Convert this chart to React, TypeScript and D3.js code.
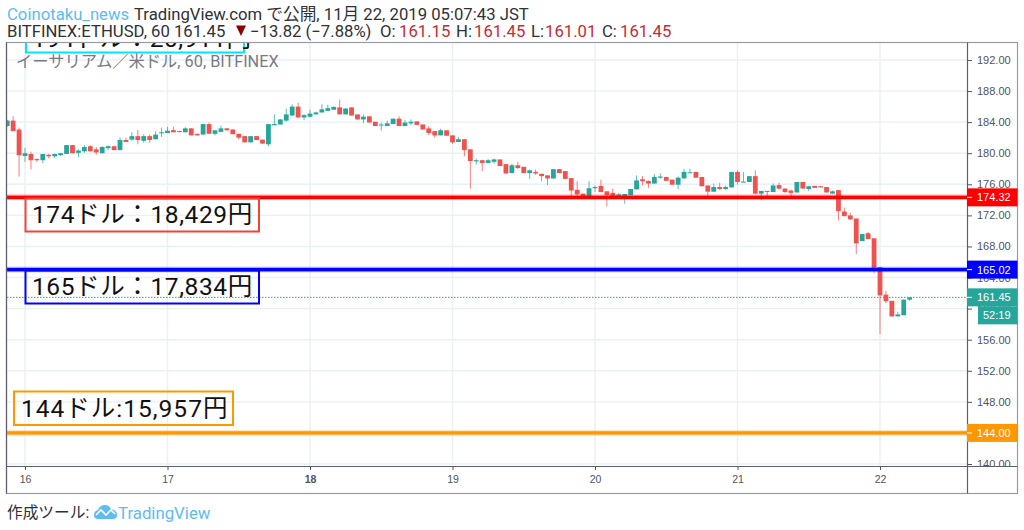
import { useEffect, useRef } from "react";
import * as d3 from "d3";

const FONT = "Roboto, 'Noto Sans CJK JP', sans-serif";
const AXIS_FONT = "'Liberation Sans', Arial, sans-serif";
const UP = "#26a69a";
const DOWN = "#ef5350";
const GRID = "#e9f0f6";
const AXIS = "#50535e";

// hourly candles, first one is 3 hours before the "16" tick
const FIRST_HOUR = -3;
const opens = [
  183.5, 184.2, 183.05, 179.65, 179.9, 179.25, 179.1, 179.8, 179.6, 179.75,
  179.9, 181.05, 180.05, 180.25, 180.9, 180.5, 180, 180.65, 180.9, 180.4,
  181.7, 181.75, 182.2, 181.6, 182.2, 181.8, 182.65, 182.6, 182.97, 182.85,
  182.7, 183.2, 182.5, 182.4, 183.75, 182.5, 182.75, 183.2, 183.05, 182.5,
  182.2, 181.4, 182.2, 181.75, 181.15, 183.6, 183.7, 184.2, 184.85, 186,
  184.6, 184.7, 185, 185.25, 185.45, 185.6, 185.9, 185, 185.9, 185,
  184.35, 184.75, 184.05, 183.65, 183.5, 183.75, 184.45, 183.5, 183.85, 184.1,
  183.7, 183.2, 182.85, 182.3, 182.95, 182.3, 181.45, 181.8, 180.5, 178.95,
  179.1, 178.75, 178.9, 179.2, 178.6, 177.45, 178.45, 178.25, 177.45, 177.6,
  177.35, 177.15, 176.75, 177.95, 177.7, 176.8, 175.3, 174.8, 174.4, 175.5,
  175.8, 175.1, 174.9, 174.4, 174.5, 174.6, 175.35, 176.65, 176.43, 176.1,
  176.85, 176.95, 176.6, 175.95, 176.75, 177.5, 177.6, 176.95, 175.85, 175.05,
  175.65, 175.4, 175.6, 177.6, 176.3, 176.3, 177.05, 174.8, 175.05, 175,
  175.9, 175.45, 175.2, 174.95, 176.3, 175.4, 175.8, 175.75, 175.65, 174.8,
  175.25, 172.5, 172, 171.6, 168.7, 169.7, 169.05, 165.35, 161.8, 161,
  159, 159.15, 161.15,
];
const closes = [
  184.2, 182.85, 179.75, 180, 179.1, 179.1, 179.9, 179.6, 179.9, 180,
  181.05, 180, 180.35, 180.8, 180.25, 180.1, 180.8, 180.9, 180.4, 181.7,
  181.45, 182.2, 181.7, 182.2, 181.7, 182.4, 182.7, 182.9, 182.7, 182.75,
  183.2, 182.3, 182.3, 183.75, 182.5, 182.95, 183.2, 182.95, 182.45, 182,
  181.4, 182.2, 181.7, 181.25, 183.75, 183.75, 184.35, 185, 186, 184.6,
  184.9, 185.1, 185.25, 185.65, 185.8, 185.95, 185, 185.75, 184.85, 184.35,
  184.7, 183.95, 183.5, 183.7, 183.85, 184.45, 183.5, 183.95, 184.05, 183.65,
  183.05, 182.6, 182.3, 182.95, 182.25, 181.4, 181.8, 180.4, 179, 179.1,
  178.75, 179.1, 179.2, 178.35, 177.4, 178.45, 178.1, 177.45, 177.8, 177.4,
  177.05, 176.75, 177.95, 177.45, 176.7, 175.2, 174.7, 174.3, 175.5, 175.65,
  175, 174.6, 174.4, 174.7, 174.75, 175.4, 176.5, 176.4, 176.1, 176.95,
  177, 176.45, 175.95, 176.85, 177.6, 177.55, 176.85, 175.75, 175.05, 175.65,
  175.4, 175.65, 177.6, 176.3, 176.35, 177.05, 174.8, 175.15, 175.15, 175.85,
  175.45, 175, 174.9, 176.3, 175.45, 175.75, 175.55, 175.6, 174.95, 175.1,
  172.55, 171.9, 171.5, 168.4, 169.6, 168.95, 165.25, 161.7, 160.95, 159,
  159.25, 161.15, 161.45,
];
const highs = [
  184.3, 184.75, 183.3, 180.7, 180.2, 179.35, 179.9, 179.9, 179.95, 180,
  181.05, 181.05, 180.5, 181.05, 181.05, 180.8, 180.9, 181, 180.95, 182.05,
  182, 182.7, 183, 182.45, 182.4, 182.85, 183.3, 183.4, 183.4, 182.9,
  183.35, 183.25, 182.5, 183.8, 183.95, 182.95, 183.55, 183.25, 183.05, 182.5,
  182.2, 182.2, 182.2, 181.75, 183.75, 185, 184.35, 185.75, 186.3, 186.5,
  185, 185.6, 185.35, 186.3, 186.25, 186.05, 186.9, 185.8, 185.9, 185,
  185, 184.75, 184.05, 183.95, 184.2, 184.45, 184.75, 184.25, 184.35, 184.1,
  183.7, 183.5, 182.85, 183.15, 182.95, 182.3, 182.1, 181.8, 180.5, 179.3,
  179.1, 179.25, 179.35, 179.2, 178.6, 178.65, 178.9, 178.25, 177.9, 177.9,
  177.35, 177.15, 177.95, 177.95, 177.7, 176.8, 176.4, 174.8, 176.4, 175.85,
  176.6, 175.1, 175.45, 174.9, 174.75, 175.4, 177.15, 177.05, 176.5, 177.3,
  177.4, 176.95, 176.6, 177, 178, 178, 177.6, 176.95, 175.85, 176.1,
  176.2, 175.85, 177.6, 177.8, 177.6, 177.05, 177.8, 175.15, 175.15, 176.1,
  176.2, 175.5, 175.3, 176.3, 176.3, 175.8, 175.8, 175.8, 175.65, 175.2,
  175.3, 173, 172.35, 171.6, 169.6, 169.85, 169.05, 165.35, 162.3, 161,
  159.6, 161.15, 161.45,
];
const lows = [
  183.4, 182.85, 177, 178.9, 177.9, 178.9, 178.75, 179.35, 179.4, 179.65,
  179.9, 180, 179.5, 180.05, 180.25, 179.8, 180, 180.4, 180.4, 180.4,
  181.45, 181.6, 181.15, 181.35, 181.35, 181.8, 182.1, 182.6, 182.7, 182.7,
  182.7, 182.3, 182.3, 182.4, 182.5, 182.3, 182.75, 182.95, 182.45, 181.75,
  181.4, 181.4, 181.7, 181.2, 180.9, 183.6, 183.7, 184.05, 184.85, 184.6,
  184.25, 184.6, 185, 185.25, 185.45, 185.6, 185, 185, 184.85, 184.35,
  183.85, 183.95, 183.5, 182.9, 183.5, 183.75, 183.5, 183.5, 183.65, 183.65,
  183.05, 182.35, 182, 182.3, 182.25, 181.2, 181.45, 179.6, 175.45, 178.55,
  177.7, 178.7, 178.65, 178.35, 177.35, 177.45, 177.95, 177.45, 176.7, 177.2,
  176.4, 175.9, 176.75, 177.45, 176.7, 174.15, 174.3, 174.15, 174.4, 175,
  175, 173.15, 174.4, 174.4, 173.5, 174.6, 175.35, 175.85, 175.55, 176.1,
  176.7, 176.45, 175.95, 175.4, 176.75, 177.5, 176.85, 175.75, 174.35, 175.05,
  175.25, 175.3, 175.6, 175.95, 176.3, 176.3, 174.8, 173.95, 174.45, 175,
  175.3, 174.9, 174.3, 174.95, 175.45, 175.15, 175.55, 175.6, 174.95, 174.8,
  171.35, 171.9, 171.4, 167.05, 168.7, 168.95, 164.6, 156.7, 160.7, 159,
  159, 159.15, 161.01,
];

const dayLabels = ["16", "17", "18", "19", "20", "21", "22"];
const dayHours = [0, 24, 48, 72, 96, 120, 144];
const priceTicks = d3.range(140, 193, 4);
const lastPrice = 161.45;

const levelValues = [174.32, 165.02, 144.0];
const levelColors = ["#ff0000", "#0000ff", "#ff9800"];

const noteTexts = ["174ドル：18,429円", "165ドル：17,834円", "144ドル:15,957円"];
const noteColors = ["#f44336", "#0000ff", "#ff9800"];

export default function App() {
  const ref = useRef<SVGSVGElement>(null);

  useEffect(() => {
    if (!ref.current) return;
    const svg = d3.select(ref.current);
    svg.selectAll("*").remove();

    const left = 7;
    const top = 43;
    const plotRight = 967;
    const plotBottom = 466;
    const frameRight = 1017.5;
    const frameBottom = 493.5;

    const x = d3.scaleLinear().domain([0, 144]).range([25, 880]);
    const y = d3.scaleLinear().domain([140, 192]).range([464, 60]);

    const defs = svg.append("defs");
    defs.append("clipPath").attr("id", "plot")
      .append("rect").attr("x", left).attr("y", top)
      .attr("width", plotRight - left).attr("height", plotBottom - top);

    // grid
    const grid = svg.append("g").attr("clip-path", "url(#plot)")
      .attr("stroke", GRID).attr("stroke-width", 1.4);
    grid.selectAll("line.h").data(priceTicks).join("line")
      .attr("class", "h")
      .attr("x1", left).attr("x2", plotRight)
      .attr("y1", d => y(d)).attr("y2", d => y(d));
    grid.selectAll("line.v").data(dayHours).join("line")
      .attr("class", "v")
      .attr("x1", d => x(d)).attr("x2", d => x(d))
      .attr("y1", top).attr("y2", plotBottom);

    // series name and the cut off note at the top
    const plot = svg.append("g").attr("clip-path", "url(#plot)");
    plot.append("rect")
      .attr("x", 26).attr("y", 30).attr("width", 218).attr("height", 22.5)
      .attr("fill", "none").attr("stroke", "#00e5ff").attr("stroke-width", 2);
    plot.append("text")
      .attr("x", 32).attr("y", 47)
      .attr("font-family", FONT).attr("font-size", 24.5).attr("letter-spacing", 0.5).attr("fill", "#111")
      .text("194ドル：20,911円");
    plot.append("text")
      .attr("x", 16).attr("y", 66.5)
      .attr("font-family", FONT).attr("font-size", 16.3).attr("fill", "#787b86")
      .text("イーサリアム／米ドル, 60, BITFINEX");

    // last price
    plot.append("line")
      .attr("x1", left).attr("x2", plotRight)
      .attr("y1", y(lastPrice)).attr("y2", y(lastPrice))
      .attr("stroke", UP).attr("stroke-width", 1).attr("stroke-dasharray", "1.5,1.5");

    // candles
    const candles = opens.map((o, i) => ({
      hour: FIRST_HOUR + i, o, c: closes[i], h: highs[i], l: lows[i],
    }));
    const color = (d: { o: number; c: number }) => (d.c >= d.o ? UP : DOWN);
    plot.append("g").selectAll("line").data(candles).join("line")
      .attr("x1", d => x(d.hour)).attr("x2", d => x(d.hour))
      .attr("y1", d => y(d.h)).attr("y2", d => y(d.l))
      .attr("stroke", color).attr("stroke-width", 1).attr("stroke-opacity", 0.75);
    plot.append("g").selectAll("rect").data(candles).join("rect")
      .attr("x", d => x(d.hour) - 2.4).attr("width", 4.8)
      .attr("y", d => y(Math.max(d.o, d.c)))
      .attr("height", d => Math.max(1, Math.abs(y(d.o) - y(d.c))))
      .attr("fill", color);

    // horizontal levels
    const levels = plot.append("g").selectAll("g").data(levelValues).join("g");
    levels.append("line")
      .attr("x1", left).attr("x2", plotRight)
      .attr("y1", d => y(d)).attr("y2", d => y(d))
      .attr("stroke", (_, i) => levelColors[i]).attr("stroke-width", 5.5).attr("stroke-opacity", 0.35);
    levels.append("line")
      .attr("x1", left).attr("x2", plotRight)
      .attr("y1", d => y(d)).attr("y2", d => y(d))
      .attr("stroke", (_, i) => levelColors[i]).attr("stroke-width", 3.4);

    // note boxes
    const noteBoxes = [
      { x: 25.5, y: 198.5, w: 233.5, h: 33, tx: 32, ty: 223, ls: 0.6 },
      { x: 25.5, y: 270.5, w: 233.5, h: 33, tx: 32, ty: 295, ls: 0.6 },
      { x: 14, y: 391.5, w: 219, h: 33.5, tx: 21, ty: 417, ls: 1 },
    ];
    const notes = plot.append("g").selectAll("g").data(noteBoxes).join("g");
    notes.append("rect")
      .attr("x", d => d.x).attr("y", d => d.y).attr("width", d => d.w).attr("height", d => d.h)
      .attr("fill", "none").attr("stroke", (_, i) => noteColors[i]).attr("stroke-width", 2);
    notes.append("text")
      .attr("x", d => d.tx).attr("y", d => d.ty)
      .attr("font-family", FONT).attr("font-size", 24.5).attr("letter-spacing", d => d.ls).attr("fill", "#111")
      .text((_, i) => noteTexts[i]);

    // price scale
    const priceAxis = svg.append("g")
      .attr("transform", `translate(${plotRight},0)`)
      .call(d3.axisRight(y).tickValues(priceTicks).tickFormat(d => d3.format(".2f")(d as number)).tickSize(5).tickPadding(5))
      .call(g => g.select(".domain").remove());
    priceAxis.selectAll(".tick line").attr("stroke", AXIS);
    priceAxis.selectAll(".tick text")
      .attr("fill", AXIS).attr("font-family", AXIS_FONT).attr("font-size", 11);

    // hide what hangs below the pane, price label of 140 is cut there
    svg.append("rect")
      .attr("x", plotRight + 1).attr("y", plotBottom).attr("width", frameRight - plotRight - 1.5).attr("height", frameBottom - plotBottom - 0.5)
      .attr("fill", "#fff");

    // time scale
    const timeAxis = svg.append("g")
      .attr("transform", `translate(0,${plotBottom})`)
      .call(d3.axisBottom(x).tickValues(dayHours).tickFormat((_, i) => dayLabels[i]).tickSize(4).tickPadding(6))
      .call(g => g.select(".domain").remove());
    timeAxis.selectAll(".tick line").attr("stroke", AXIS);
    timeAxis.selectAll(".tick text")
      .attr("fill", AXIS).attr("font-family", AXIS_FONT).attr("font-size", 10.5)
      .attr("font-weight", d => (d === 48 ? "700" : "400"));

    // frame
    svg.append("rect")
      .attr("x", 6.5).attr("y", 42.5).attr("width", frameRight - 6.5).attr("height", frameBottom - 42.5)
      .attr("fill", "none").attr("stroke", "#9a9ca3").attr("stroke-width", 1.2);
    svg.append("line").attr("x1", 6.5).attr("x2", 6.5).attr("y1", 42.5).attr("y2", frameBottom)
      .attr("stroke", "#5d606b").attr("stroke-width", 1.2);
    svg.append("line").attr("x1", plotRight + 0.5).attr("x2", plotRight + 0.5).attr("y1", 42.5).attr("y2", frameBottom)
      .attr("stroke", "#5d606b").attr("stroke-width", 1.2);
    svg.append("line").attr("x1", 6.5).attr("x2", frameRight).attr("y1", plotBottom + 0.5).attr("y2", plotBottom + 0.5)
      .attr("stroke", "#5d606b").attr("stroke-width", 1);

    // price labels
    const labels = [
      { v: levelValues[0], c: levelColors[0], text: "174.32" },
      { v: levelValues[1], c: levelColors[1], text: "165.02" },
      { v: levelValues[2], c: levelColors[2], text: "144.00" },
      { v: lastPrice, c: UP, text: "161.45" },
    ];
    const tags = svg.append("g").selectAll("g").data(labels).join("g")
      .attr("transform", d => `translate(${plotRight},${y(d.v)})`);
    tags.append("rect")
      .attr("x", 0).attr("y", -9).attr("width", 50.5).attr("height", 18)
      .attr("fill", d => d.c);
    tags.append("line")
      .attr("x1", 0).attr("x2", 5).attr("stroke", "#fff");
    tags.append("text")
      .attr("x", 10).attr("dy", "0.36em")
      .attr("font-family", AXIS_FONT).attr("font-size", 11).attr("fill", "#fff")
      .text(d => d.text);
    const clock = svg.append("g").attr("transform", `translate(978,${y(lastPrice) + 9})`);
    clock.append("rect").attr("width", 39.5).attr("height", 18).attr("fill", UP);
    clock.append("text")
      .attr("x", 5).attr("y", 13)
      .attr("font-family", AXIS_FONT).attr("font-size", 11).attr("fill", "#fff")
      .text("52:19");

    // header
    const blue = "#5ebcf0";
    const dark = "#2f3136";
    const red = "#c62a33";
    const line1 = svg.append("text").attr("x", 7).attr("y", 20)
      .attr("font-family", FONT).attr("font-size", 16.7).attr("fill", dark);
    line1.append("tspan").attr("fill", blue).text("Coinotaku_news");
    line1.append("tspan").attr("x", 134).text("TradingView.com で公開, 11月 22, 2019 05:07:43 JST");

    const line2 = svg.append("g")
      .attr("font-family", FONT).attr("font-size", 16.7);
    const parts = [
      { x: 7, t: "BITFINEX:ETHUSD, 60 161.45", c: dark },
      { x: 250, t: "−13.82 (−7.88%)", c: dark },
      { x: 380, t: "O:", c: dark },
      { x: 399, t: "161.15", c: red },
      { x: 456, t: "H:", c: dark },
      { x: 474, t: "161.45", c: red },
      { x: 531, t: "L:", c: dark },
      { x: 545, t: "161.01", c: red },
      { x: 602, t: "C:", c: dark },
      { x: 620, t: "161.45", c: red },
    ];
    line2.selectAll("text").data(parts).join("text")
      .attr("x", d => d.x).attr("y", 37).attr("fill", d => d.c).text(d => d.t);
    svg.append("path").attr("d", "M236,25.5H246L241,36Z").attr("fill", "#8b0000");

    // footer
    svg.append("text").attr("x", 7).attr("y", 518)
      .attr("font-family", FONT).attr("font-size", 15.7).attr("fill", dark)
      .text("作成ツール:");
    svg.append("path")
      .attr("d", "M94,515 Q94,511 98,510 Q100,505 105,505 Q109,505 111,509 Q117,510 117,515 Q117,519 113,519 L98,519 Q94,519 94,515Z")
      .attr("fill", blue);
    svg.append("path")
      .attr("d", "M96,515 L101,510 L106,515 L111,510 L115,514")
      .attr("fill", "none").attr("stroke", "#fff").attr("stroke-width", 1.6);
    svg.append("text").attr("x", 118).attr("y", 519)
      .attr("font-family", FONT).attr("font-size", 16.8).attr("fill", blue)
      .text("TradingView");
  }, []);

  return (
    <svg
      ref={ref}
      width={1024}
      height={530}
      style={{ position: "absolute", left: 0, top: 0, background: "#fff" }}
    />
  );
}
